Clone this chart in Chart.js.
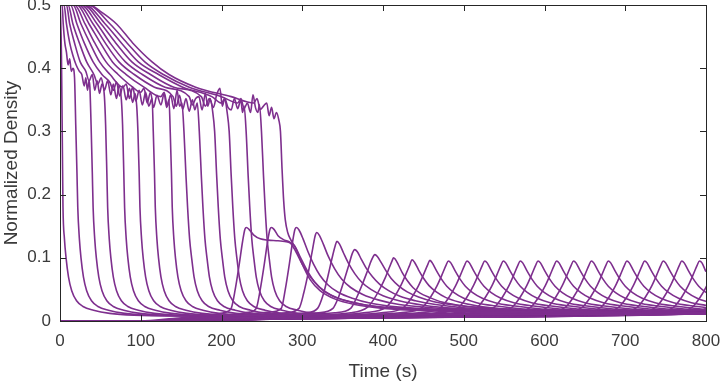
<!DOCTYPE html>
<html>
<head>
<meta charset="utf-8">
<script src="https://cdn.jsdelivr.net/npm/chart.js@4.4.1/dist/chart.umd.min.js"></script>
<style>
  body { margin: 0; background: #fff; }
</style>
</head>
<body>
<canvas id="densityChart" width="721" height="383"></canvas>
<script>
// Tick labels
const xTicks = [0, 100, 200, 300, 400, 500, 600, 700, 800];
const yTicks = [0, 0.1, 0.2, 0.3, 0.4, 0.5];

// Upstream cells: start jammed at 0.5, relax, then empty out one after another
const dropCurves = [
  [[0,0.5],[0.8,0.48],[1.8,0.42],[2.6,0.32],[3.2,0.24],[3.7,0.18],[5.5,0.13],[7.5,0.1],[10.5,0.07],[14.5,0.048],[20.5,0.032],[28.5,0.023],[41.5,0.017],[61.5,0.012],[91.5,0.009],[144,0.008],[300,0.01],[800,0.011]],
  [[0,0.5],[2.6,0.5],[4,0.47],[6,0.44],[8,0.425],[10,0.405],[12,0.415],[14,0.395],[16,0.4],[18,0.385],[19.5,0.31],[21,0.235],[22,0.18],[24,0.13],[26,0.1],[29,0.07],[33,0.048],[39,0.032],[47,0.023],[60,0.017],[80,0.012],[110,0.009],[162,0.008],[300,0.01],[800,0.011]],
  [[0,0.5],[5,0.5],[8,0.47],[12,0.44],[16,0.42],[20,0.405],[24,0.395],[27,0.39],[30,0.372],[32,0.385],[34,0.365],[36,0.38],[37,0.37],[38.5,0.31],[40,0.235],[41,0.18],[43,0.13],[45,0.1],[48,0.07],[52,0.048],[58,0.032],[66,0.023],[79,0.017],[99,0.012],[129,0.009],[181,0.008],[300,0.01],[800,0.011]],
  [[0,0.5],[8,0.5],[12,0.47],[18,0.44],[25,0.41],[32,0.395],[36,0.38],[40,0.39],[43,0.365],[46,0.38],[49,0.36],[52,0.375],[55,0.355],[56.5,0.31],[58,0.235],[59,0.18],[61,0.13],[63,0.1],[66,0.07],[70,0.048],[76,0.032],[84,0.023],[97,0.017],[117,0.012],[147,0.009],[199,0.008],[320,0.01],[800,0.011]],
  [[0,0.5],[10,0.5],[16,0.47],[24,0.44],[33,0.41],[42,0.39],[47,0.375],[51,0.385],[55,0.365],[59,0.38],[63,0.358],[66,0.375],[70,0.352],[73,0.372],[76,0.35],[77.5,0.31],[79,0.235],[80,0.18],[82,0.13],[84,0.1],[87,0.07],[91,0.048],[97,0.032],[105,0.023],[118,0.017],[138,0.012],[168,0.009],[220,0.008],[340,0.01],[800,0.011]],
  [[0,0.5],[13,0.5],[21,0.47],[30,0.44],[41,0.41],[52,0.39],[62,0.377],[66,0.365],[70,0.378],[74,0.356],[78,0.372],[82,0.35],[86,0.368],[90,0.346],[93,0.36],[95,0.34],[96.5,0.3],[98,0.235],[99,0.18],[101,0.13],[103,0.1],[106,0.07],[110,0.048],[116,0.032],[124,0.023],[137,0.017],[157,0.012],[187,0.009],[240,0.008],[360,0.01],[800,0.011]],
  [[0,0.5],[16,0.5],[26,0.47],[37,0.44],[49,0.41],[62,0.39],[78,0.37],[82,0.375],[86,0.352],[90,0.37],[94,0.348],[98,0.365],[102,0.342],[106,0.362],[110,0.34],[114,0.352],[115.5,0.3],[117,0.235],[118,0.18],[120,0.13],[122,0.1],[125,0.07],[129,0.048],[135,0.032],[143,0.023],[156,0.017],[176,0.012],[206,0.009],[260,0.008],[380,0.01],[800,0.011]],
  [[0,0.5],[18,0.5],[31,0.47],[43,0.44],[57,0.41],[72,0.39],[90,0.37],[100,0.362],[104,0.368],[108,0.345],[112,0.362],[116,0.338],[120,0.357],[125,0.342],[129,0.36],[132,0.338],[135,0.35],[136.5,0.3],[138,0.235],[139,0.18],[141,0.13],[143,0.1],[146,0.07],[150,0.048],[156,0.032],[164,0.023],[177,0.017],[197,0.012],[227,0.009],[280,0.008],[400,0.01],[800,0.011]],
  [[0,0.5],[21,0.5],[36,0.47],[50,0.44],[65,0.41],[82,0.39],[104,0.37],[125,0.355],[129,0.362],[133,0.34],[137,0.358],[141,0.336],[145,0.365],[148,0.34],[151,0.345],[153.5,0.3],[156,0.23],[158,0.18],[160.5,0.13],[163,0.1],[166,0.07],[170,0.048],[176,0.032],[184,0.023],[198,0.017],[218,0.012],[248,0.009],[300,0.008],[420,0.01],[800,0.011]],
  [[0,0.5],[23,0.5],[41,0.47],[56,0.44],[73,0.41],[92,0.39],[117,0.37],[140,0.355],[144,0.34],[148,0.357],[152,0.335],[156,0.352],[160,0.332],[164,0.35],[167,0.334],[170,0.345],[172.5,0.3],[175,0.23],[177,0.18],[179.5,0.13],[182,0.1],[185,0.07],[189,0.048],[195,0.032],[203,0.023],[217,0.017],[237,0.012],[267,0.009],[320,0.008],[440,0.01],[800,0.011]],
  [[0,0.5],[26,0.5],[46,0.47],[62,0.44],[81,0.41],[102,0.39],[130,0.37],[160,0.355],[164,0.342],[168,0.352],[172,0.355],[176,0.334],[180,0.36],[183,0.34],[186,0.352],[189,0.332],[191.5,0.3],[194,0.23],[196,0.18],[198.5,0.13],[201,0.1],[204,0.07],[208,0.048],[214,0.032],[222,0.023],[236,0.017],[256,0.012],[286,0.009],[340,0.008],[460,0.01],[800,0.011]],
  [[0,0.5],[29,0.5],[51,0.47],[69,0.44],[89,0.41],[112,0.39],[141,0.37],[175,0.355],[180,0.34],[185,0.352],[190,0.338],[194,0.358],[198,0.368],[201,0.34],[204,0.352],[207,0.33],[209.5,0.3],[212,0.23],[214,0.18],[216.5,0.13],[219,0.1],[222,0.07],[226,0.048],[232,0.032],[240,0.023],[254,0.017],[274,0.012],[304,0.009],[360,0.008],[480,0.01],[800,0.011]],
  [[0,0.5],[31,0.5],[56,0.47],[76,0.44],[97,0.41],[122,0.39],[152,0.37],[188,0.355],[200,0.345],[204,0.352],[208,0.338],[212,0.334],[216,0.352],[220,0.336],[224,0.35],[226,0.33],[228,0.34],[230.5,0.3],[233,0.23],[235,0.18],[237.5,0.13],[240,0.1],[243,0.07],[247,0.048],[253,0.032],[261,0.023],[275,0.017],[295,0.012],[325,0.009],[380,0.008],[500,0.01],[800,0.011]],
  [[0,0.5],[34,0.5],[62,0.47],[83,0.44],[105,0.41],[128,0.39],[160,0.37],[200,0.355],[220,0.345],[224,0.352],[228,0.336],[232,0.345],[236,0.33],[239,0.358],[242,0.338],[245,0.33],[247,0.342],[249.5,0.3],[252,0.23],[254,0.18],[256.5,0.13],[259,0.1],[262,0.07],[266,0.048],[272,0.032],[280,0.023],[294,0.017],[314,0.012],[344,0.009],[400,0.008],[520,0.01],[800,0.011]],
  [[0,0.5],[37,0.5],[50,0.49],[70,0.47],[90,0.44],[114,0.41],[135,0.39],[168,0.37],[212,0.355],[240,0.345],[244,0.352],[248,0.335],[252,0.34],[256,0.345],[259,0.325],[262,0.338],[265,0.32],[268,0.33],[271,0.318],[273,0.3],[275,0.24],[277,0.19],[279,0.16],[282,0.14],[286,0.128],[292,0.115],[300,0.09],[310,0.065],[322,0.048],[340,0.035],[365,0.026],[400,0.02],[460,0.016],[560,0.013],[800,0.011]]
];

// Downstream cells: empty at first, then a density wave passes each one
const pulseCurves = [
  [[0,0],[100,0],[140,0.004],[180,0.009],[205,0.014],[212,0.02],[217,0.05],[222,0.09],[226,0.125],[229,0.145],[231,0.148],[234,0.145],[240,0.136],[248,0.13],[258,0.128],[270,0.127],[282,0.125],[290,0.12],[298,0.1],[306,0.08],[315,0.062],[326,0.048],[340,0.038],[360,0.03],[390,0.023],[430,0.019],[500,0.016],[600,0.014],[800,0.012]],
  [[0,0],[105,0],[150,0.004],[200,0.009],[235,0.014],[243,0.02],[248,0.05],[253,0.09],[257,0.125],[260,0.145],[262,0.148],[265,0.145],[270,0.135],[278,0.128],[285,0.124],[292,0.11],[300,0.09],[310,0.07],[322,0.053],[336,0.041],[355,0.032],[380,0.025],[420,0.02],[480,0.017],[580,0.015],[800,0.012]],
  [[0,0],[110,0],[160,0.004],[210,0.009],[260,0.014],[274,0.02],[279,0.05],[284,0.09],[288,0.125],[291,0.145],[293,0.148],[296,0.144],[301,0.13],[307,0.11],[314,0.09],[322,0.072],[332,0.057],[345,0.045],[362,0.036],[385,0.028],[420,0.022],[480,0.018],[580,0.015],[800,0.012]],
  [[0,0],[115,0],[170,0.004],[220,0.009],[280,0.013],[296,0.02],[302,0.045],[308,0.08],[313,0.115],[316,0.135],[318,0.14],[321,0.136],[326,0.122],[332,0.103],[340,0.083],[349,0.066],[360,0.053],[375,0.042],[395,0.033],[420,0.026],[460,0.021],[530,0.017],[640,0.015],[800,0.013]],
  [[0,0],[120,0],[180,0.004],[240,0.009],[305,0.013],[319,0.02],[326,0.042],[332,0.072],[337,0.1],[341,0.12],[343,0.126],[346,0.122],[351,0.108],[357,0.092],[365,0.075],[374,0.061],[385,0.05],[400,0.04],[420,0.032],[450,0.025],[490,0.02],[560,0.017],[660,0.015],[800,0.013]],
  [[0,0],[125,0],[190,0.004],[250,0.009],[320,0.013],[338,0.02],[345,0.038],[352,0.065],[358,0.09],[362,0.107],[365,0.113],[368,0.11],[373,0.098],[379,0.084],[387,0.07],[396,0.058],[407,0.048],[421,0.039],[440,0.032],[465,0.026],[500,0.021],[560,0.018],[660,0.015],[800,0.013]],
  [[0,0],[130,0],[200,0.004],[260,0.008],[340,0.013],[360,0.02],[367,0.036],[375,0.06],[381,0.08],[386,0.097],[390,0.105],[393,0.102],[398,0.092],[404,0.079],[411,0.066],[419,0.056],[430,0.046],[444,0.038],[462,0.031],[485,0.026],[520,0.021],[580,0.018],[680,0.015],[800,0.013]],
  [[0,0],[135,0],[210,0.004],[280,0.008],[360,0.013],[381,0.022],[389,0.035],[397,0.053],[403,0.069],[408,0.085],[411.5,0.096],[413,0.1],[415,0.098],[419,0.089],[424,0.076],[430,0.064],[437,0.053],[446,0.044],[458,0.037],[473,0.03],[493,0.025],[523,0.021],[573,0.017],[643,0.015],[800,0.013]],
  [[0,0],[140,0],[210,0.004],[300,0.008],[376,0.013],[404,0.022],[414,0.038],[422,0.056],[428,0.073],[433,0.088],[436,0.097],[439,0.093],[444,0.081],[450,0.068],[457,0.056],[466,0.046],[478,0.037],[494,0.03],[516,0.024],[551,0.019],[606,0.016],[686,0.014],[800,0.013]],
  [[0,0],[142,0],[215,0.004],[310,0.008],[398,0.013],[426,0.022],[436,0.038],[444,0.056],[450,0.073],[455,0.088],[458,0.096],[461,0.092],[466,0.08],[472,0.067],[479,0.055],[488,0.045],[500,0.036],[516,0.029],[538,0.024],[573,0.019],[628,0.016],[708,0.014],[800,0.013]],
  [[0,0],[144,0],[220,0.004],[320,0.008],[421,0.013],[449,0.022],[459,0.038],[467,0.056],[473,0.073],[478,0.088],[481,0.095],[484,0.092],[489,0.08],[495,0.067],[502,0.055],[511,0.045],[523,0.036],[539,0.029],[561,0.024],[596,0.019],[651,0.016],[731,0.014],[800,0.013]],
  [[0,0],[146,0],[220,0.004],[330,0.008],[444,0.013],[472,0.022],[482,0.038],[490,0.056],[496,0.073],[501,0.088],[504,0.095],[507,0.092],[512,0.08],[518,0.067],[525,0.055],[534,0.045],[546,0.036],[562,0.029],[584,0.024],[619,0.019],[674,0.016],[754,0.014],[800,0.013]],
  [[0,0],[148,0],[225,0.004],[340,0.008],[466,0.013],[494,0.022],[504,0.038],[512,0.056],[518,0.073],[523,0.088],[526,0.095],[529,0.092],[534,0.08],[540,0.067],[547,0.055],[556,0.045],[568,0.036],[584,0.029],[606,0.024],[641,0.019],[696,0.016],[776,0.014],[800,0.014]],
  [[0,0],[150,0],[225,0.004],[350,0.008],[489,0.013],[517,0.022],[527,0.038],[535,0.056],[541,0.073],[546,0.088],[549,0.095],[552,0.092],[557,0.08],[563,0.067],[570,0.055],[579,0.045],[591,0.036],[607,0.029],[629,0.024],[664,0.019],[719,0.016],[800,0.014]],
  [[0,0],[152,0],[230,0.004],[360,0.008],[510,0.013],[538,0.022],[548,0.038],[556,0.056],[562,0.073],[567,0.088],[570,0.095],[573,0.092],[578,0.08],[584,0.067],[591,0.055],[600,0.045],[612,0.036],[628,0.029],[650,0.024],[685,0.019],[740,0.016],[800,0.015]],
  [[0,0],[154,0],[230,0.003],[370,0.008],[532,0.013],[560,0.022],[570,0.038],[578,0.056],[584,0.073],[589,0.088],[592,0.095],[595,0.092],[600,0.08],[606,0.067],[613,0.055],[622,0.045],[634,0.036],[650,0.029],[672,0.024],[707,0.019],[762,0.016],[800,0.015]],
  [[0,0],[156,0],[235,0.003],[380,0.007],[555,0.012],[583,0.022],[593,0.038],[601,0.056],[607,0.073],[612,0.088],[615,0.095],[618,0.092],[623,0.08],[629,0.067],[636,0.055],[645,0.045],[657,0.036],[673,0.029],[695,0.024],[730,0.019],[785,0.016],[800,0.016]],
  [[0,0],[158,0],[235,0.003],[390,0.007],[576,0.012],[604,0.022],[614,0.038],[622,0.056],[628,0.073],[633,0.088],[636,0.095],[639,0.092],[644,0.08],[650,0.067],[657,0.055],[666,0.045],[678,0.036],[694,0.029],[716,0.024],[751,0.019],[806,0.016]],
  [[0,0],[160,0],[240,0.003],[400,0.007],[598,0.012],[626,0.022],[636,0.038],[644,0.056],[650,0.073],[655,0.088],[658,0.095],[661,0.092],[666,0.08],[672,0.067],[679,0.055],[688,0.045],[700,0.036],[716,0.029],[738,0.024],[773,0.019],[828,0.016]],
  [[0,0],[162,0],[240,0.003],[410,0.007],[619,0.012],[647,0.022],[657,0.038],[665,0.056],[671,0.073],[676,0.088],[679,0.095],[682,0.092],[687,0.08],[693,0.067],[700,0.055],[709,0.045],[721,0.036],[737,0.029],[759,0.024],[794,0.019],[849,0.016]],
  [[0,0],[164,0],[245,0.003],[420,0.006],[642,0.012],[670,0.022],[680,0.038],[688,0.056],[694,0.073],[699,0.088],[702,0.095],[705,0.092],[710,0.08],[716,0.067],[723,0.055],[732,0.045],[744,0.036],[760,0.029],[782,0.024],[817,0.019]],
  [[0,0],[166,0],[245,0.003],[430,0.006],[664,0.012],[692,0.022],[702,0.038],[710,0.056],[716,0.073],[721,0.088],[724,0.095],[727,0.092],[732,0.08],[738,0.067],[745,0.055],[754,0.045],[766,0.036],[782,0.029],[804,0.024]],
  [[0,0],[168,0],[250,0.003],[440,0.006],[687,0.012],[715,0.022],[725,0.038],[733,0.056],[739,0.073],[744,0.088],[747,0.095],[750,0.092],[755,0.08],[761,0.067],[768,0.055],[777,0.045],[789,0.036],[805,0.029]],
  [[0,0],[170,0],[250,0.003],[450,0.006],[710,0.012],[738,0.022],[748,0.038],[756,0.056],[762,0.073],[767,0.088],[770,0.095],[773,0.092],[778,0.08],[784,0.067],[791,0.055],[800,0.045]],
  [[0,0],[172,0],[255,0.003],[460,0.006],[732,0.012],[760,0.022],[770,0.038],[778,0.056],[784,0.073],[789,0.088],[792,0.095],[795,0.092],[800,0.078],[806,0.067]],
  [[0,0],[174,0],[255,0.003],[470,0.006],[755,0.012],[783,0.022],[793,0.038],[801,0.056],[807,0.073]],
  [[0,0],[176,0],[260,0.003],[480,0.006],[700,0.009],[778,0.012],[806,0.022]],
  [[0,0],[178,0],[260,0.003],[490,0.006],[720,0.009],[800,0.012]]
];

const lineColor = '#7E2F8E';
const axisColor = '#262626';
const textColor = '#3a3a3a';

const datasets = dropCurves.concat(pulseCurves).map(curve => ({
    data: curve.map(p => ({ x: p[0], y: p[1] })),
    borderColor: lineColor,
    borderWidth: 1.6,
    pointRadius: 0,
    fill: false,
    cubicInterpolationMode: 'monotone'
}));

// MATLAB-like box with inward ticks on all four sides
const boxPlugin = {
    id: 'boxTicks',
    afterDatasetsDraw(chart) {
        const { ctx, chartArea: a, scales } = chart;
        ctx.save();
        ctx.strokeStyle = axisColor;
        ctx.lineWidth = 1;
        ctx.strokeRect(a.left + 0.5, a.top + 0.5, a.right - a.left, a.bottom - a.top);
        const len = 6;
        ctx.beginPath();
        xTicks.forEach(v => {
            const px = Math.round(scales.x.getPixelForValue(v)) + 0.5;
            ctx.moveTo(px, a.bottom); ctx.lineTo(px, a.bottom - len);
            ctx.moveTo(px, a.top); ctx.lineTo(px, a.top + len);
        });
        yTicks.forEach(v => {
            const py = Math.round(scales.y.getPixelForValue(v)) + 0.5;
            ctx.moveTo(a.left, py); ctx.lineTo(a.left + len, py);
            ctx.moveTo(a.right, py); ctx.lineTo(a.right - len, py);
        });
        ctx.stroke();
        ctx.restore();
    }
};

const ctx = document.getElementById('densityChart').getContext('2d');
new Chart(ctx, {
    type: 'line',
    data: { datasets: datasets },
    options: {
        responsive: false,
        animation: false,
        layout: { padding: { top: 5, right: 15, left: 0, bottom: 0 } },
        plugins: { legend: { display: false }, tooltip: { enabled: false } },
        scales: {
            x: {
                type: 'linear',
                min: 0,
                max: 800,
                afterFit: s => { s.height = 62; s.paddingLeft = 0; s.paddingRight = 0; },
                afterBuildTicks: s => { s.ticks = xTicks.map(v => ({ value: v })); },
                grid: { display: false, drawTicks: false },
                border: { display: false },
                ticks: { color: textColor, padding: 10, maxRotation: 0, font: { family: 'Liberation Sans', size: 17 } },
                title: { display: true, text: 'Time (s)', color: textColor, padding: { top: 4, bottom: 0 }, font: { family: 'Liberation Sans', size: 19 } }
            },
            y: {
                min: 0,
                max: 0.5,
                afterFit: s => { s.width = 60; s.paddingTop = 0; s.paddingBottom = 0; },
                afterBuildTicks: s => { s.ticks = yTicks.map(v => ({ value: v })); },
                grid: { display: false, drawTicks: false },
                border: { display: false },
                ticks: { color: textColor, padding: 9, font: { family: 'Liberation Sans', size: 17 } },
                title: { display: true, text: 'Normalized Density', color: textColor, padding: { top: 0, bottom: 2 }, font: { family: 'Liberation Sans', size: 19 } }
            }
        }
    },
    plugins: [boxPlugin]
});
</script>
</body>
</html>
